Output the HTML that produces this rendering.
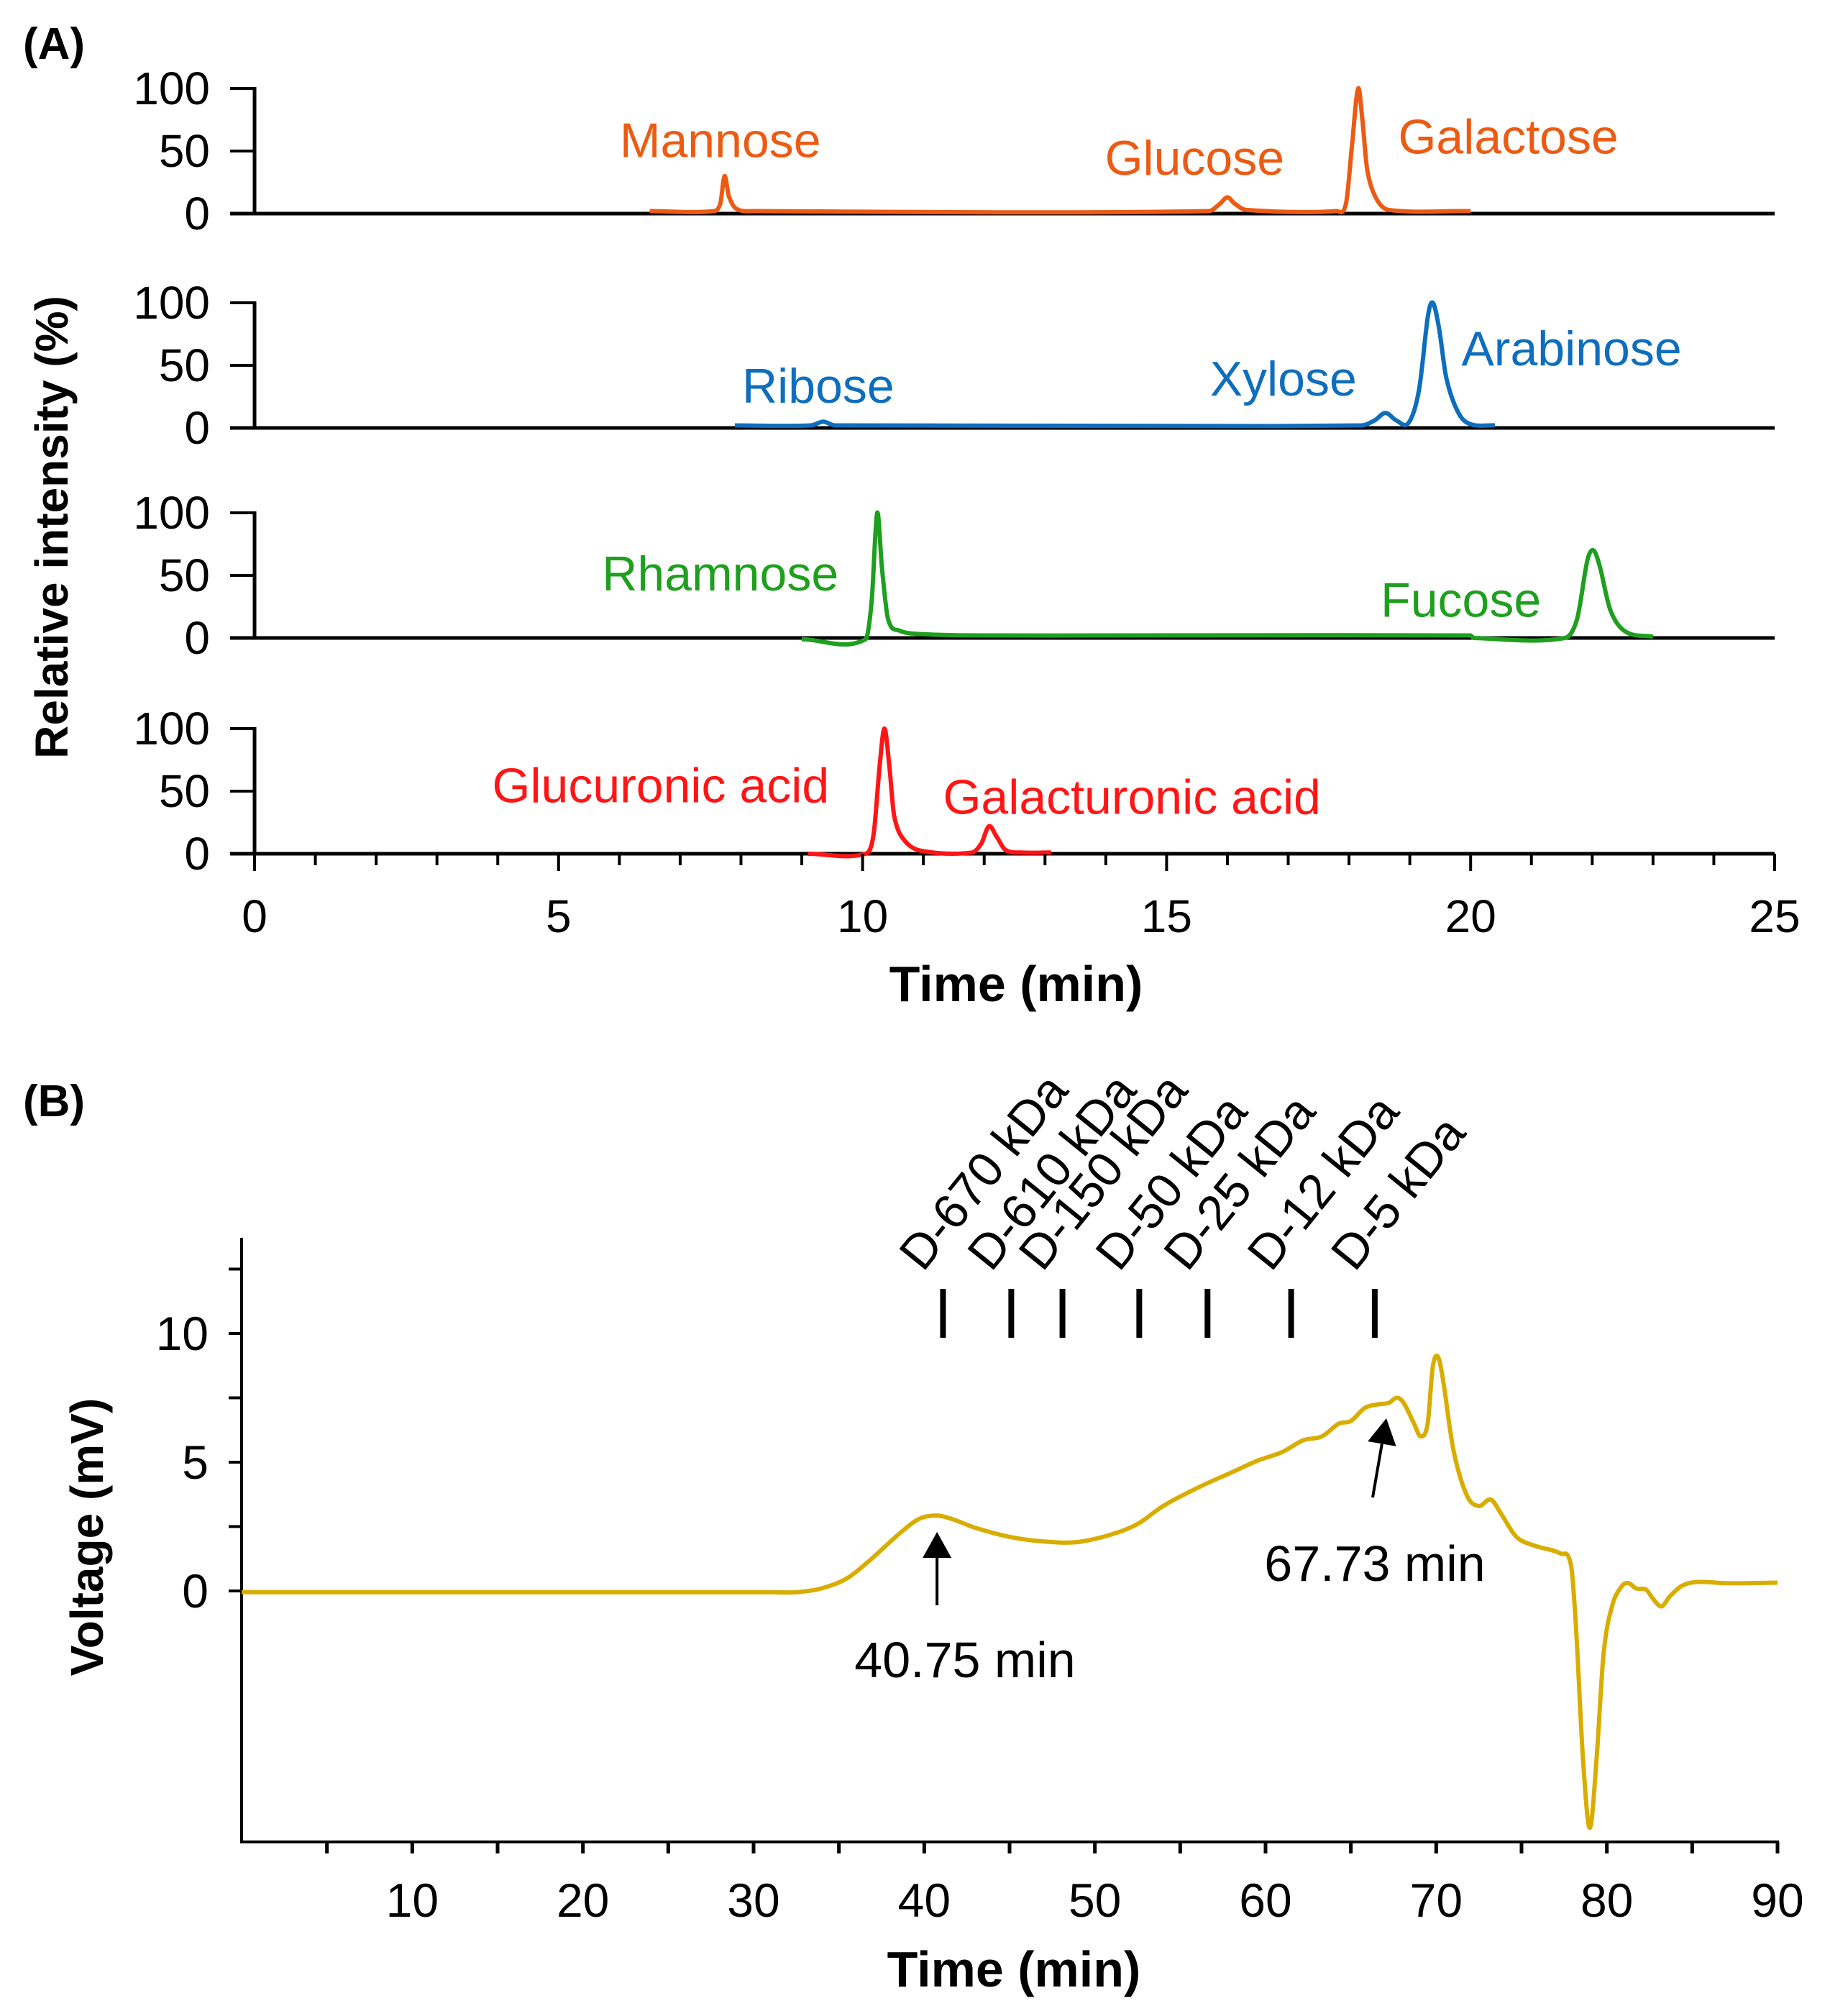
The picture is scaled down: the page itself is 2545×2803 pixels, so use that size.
<!DOCTYPE html>
<html><head><meta charset="utf-8">
<style>
html,body{margin:0;padding:0;background:#fff;}
svg{display:block;font-family:"Liberation Sans",Arial,sans-serif;}
</style></head>
<body>
<svg id="chart" width="2545" height="2803" viewBox="0 0 2545 2803" xmlns="http://www.w3.org/2000/svg">
<text x="32" y="82" font-size="62" font-weight="bold">(A)</text>
<text x="32" y="1552" font-size="62" font-weight="bold">(B)</text>
<g id="pa"></g>
<g id="pb"></g>
</svg>
<script>
// ---------- Panel A data (time min, relative intensity %) ----------
const aXTicks = [0, 5, 10, 15, 20, 25];
const aYTicks = [0, 50, 100];
const mannoseTrace = [[6.5,2],[7.55,2],[7.66,8],[7.73,30],[7.8,14],[7.92,4],[8.2,2],[15.7,2],[15.88,8],[16.0,13],[16.12,8],[16.3,3],[17.8,2],[17.95,8],[18.05,55],[18.15,100],[18.22,75],[18.3,35],[18.45,12],[18.65,3],[20,2]];
const riboseTrace = [[7.9,2],[9.15,2],[9.35,5],[9.55,2],[18.2,2],[18.42,6],[18.6,12],[18.78,6],[18.98,4],[19.15,30],[19.3,90],[19.38,100],[19.48,80],[19.6,40],[19.8,12],[20.0,3],[20.4,2]];
const rhamnoseTrace = [[9,-1],[10.05,-1],[10.15,30],[10.24,100],[10.32,55],[10.42,15],[10.6,6],[11,3],[12,2],[20,2],[20.05,0],[21.55,0],[21.75,15],[21.92,62],[22.02,70],[22.12,58],[22.3,22],[22.55,5],[23,1]];
const uronicTrace = [[9.1,0],[10.05,0],[10.18,15],[10.28,70],[10.36,100],[10.44,70],[10.52,30],[10.7,10],[11,2],[11.8,1],[11.95,8],[12.08,22],[12.2,14],[12.35,3],[12.6,1],[13.1,1]];
const aSeries = [mannoseTrace, riboseTrace, rhamnoseTrace, uronicTrace];
const aColors = ["#EC5B13","#0E6EBE","#1EA01E","#FF1515"];
const aNames = ["neutral-hexose-trace","pentose-trace","deoxy-sugar-trace","uronic-acid-trace"];
const aLabels = [
  [["Mannose",7.66,45],["Glucose",15.46,31],["Galactose",20.62,48]],
  [["Ribose",9.27,20],["Xylose",16.92,26],["Arabinose",21.66,50]],
  [["Rhamnose",7.66,38],["Fucose",19.84,17]],
  [["Glucuronic acid",6.68,41],["Galacturonic acid",14.43,32]]
];
// ---------- Panel B data (time min, voltage mV) ----------
const bXTicks = [10,20,30,40,50,60,70,80,90];
const bYTicks = [0,5,10];
const bTrace = [[0,-0.05],[31,-0.05],[32.5,-0.05],[34,0.1],[35.5,0.5],[37,1.3],[38.5,2.2],[39.7,2.8],[40.7,2.93],[41.6,2.8],[43,2.45],[45,2.1],[47,1.92],[49,1.9],[51,2.2],[52.5,2.6],[54,3.3],[56,4.0],[58,4.6],[59.5,5.05],[61,5.4],[62.2,5.85],[63.3,6.0],[64.3,6.5],[65,6.6],[65.8,7.1],[66.6,7.25],[67.2,7.3],[67.7,7.5],[68.1,7.3],[68.7,6.5],[69.1,6.0],[69.5,6.5],[69.8,8.7],[70.1,9.1],[70.4,8.2],[71,5.5],[71.8,3.7],[72.5,3.3],[73.2,3.55],[73.8,3.0],[74.7,2.1],[75.8,1.75],[77.3,1.45],[77.9,1.0],[78.2,-1.5],[78.6,-6.5],[79.0,-9.2],[79.4,-6.5],[79.8,-2.5],[80.3,-0.6],[80.9,0.2],[81.3,0.3],[81.7,0.1],[82.3,0.05],[82.7,-0.3],[83.2,-0.6],[83.7,-0.2],[84.4,0.2],[85.3,0.35],[87,0.3],[90,0.32]];
const bStdTimes = [41.1,45.1,48.1,52.6,56.6,61.5,66.4];
const bStdNames = ["D-670 kDa","D-610 kDa","D-150 kDa","D-50 kDa","D-25 kDa","D-12 kDa","D-5 kDa"];
const bPeakTimes = [40.75, 67.73];
const bPeakLabels = ["40.75 min","67.73 min"];

const NS = "http://www.w3.org/2000/svg";
function mk(parent, tag, attrs){ const e=document.createElementNS(NS,tag); for(const k in attrs) e.setAttribute(k,attrs[k]); parent.appendChild(e); return e; }
function smooth(pts){
  let d = "M"+pts[0][0].toFixed(1)+","+pts[0][1].toFixed(1);
  for(let i=0;i<pts.length-1;i++){
    const p0=pts[Math.max(i-1,0)],p1=pts[i],p2=pts[i+1],p3=pts[Math.min(i+2,pts.length-1)];
    const seg=p2[0]-p1[0];
    // tangent slopes scaled by segment length (monotone in x)
    const m1=(p2[1]-p0[1])/Math.max(p2[0]-p0[0],1e-6);
    const m2=(p3[1]-p1[1])/Math.max(p3[0]-p1[0],1e-6);
    const c1=[p1[0]+seg/3,p1[1]+m1*seg/3];
    const c2=[p2[0]-seg/3,p2[1]-m2*seg/3];
    d+=" C"+c1[0].toFixed(1)+","+c1[1].toFixed(1)+" "+c2[0].toFixed(1)+","+c2[1].toFixed(1)+" "+p2[0].toFixed(1)+","+p2[1].toFixed(1);
  }
  return d;
}
// ----- Panel A -----
const pa=document.getElementById("pa");
const ax0=354, ax1=2468;
const aX = t => ax0 + (t-0)/(25-0)*(ax1-ax0);
const aBase = [297,595,887,1187], aH = 174;
for(let s=0;s<4;s++){
  const yb=aBase[s];
  const aY = v => yb - v/100*aH;
  const g=mk(pa,"g",{});
  
  
  const ya=mk(g,"line",{x1:ax0,y1:aY(100)-2,x2:ax0,y2:yb,stroke:"#000","stroke-width":5});
  
  
  const xa=mk(g,"line",{x1:ax0-34,y1:yb,x2:ax1,y2:yb,stroke:"#000","stroke-width":5});
  
  
  aYTicks.forEach(v=>{
    const tk=mk(g,"line",{x1:ax0-34,y1:aY(v),x2:ax0,y2:aY(v),stroke:"#000","stroke-width":4});
    
    
    const tl=mk(g,"text",{x:ax0-62,y:aY(v)+22,"font-size":64,"text-anchor":"end"});
    tl.textContent=v;
    
    
  });
  const path=mk(g,"path",{d:smooth(aSeries[s].map(p=>[aX(p[0]),aY(p[1])])),fill:"none",stroke:aColors[s],"stroke-width":6,"stroke-linejoin":"round"});
  
  
  aLabels[s].forEach(l=>{
    const t=mk(g,"text",{x:aX(l[1]),y:aY(l[2]),"font-size":68,fill:aColors[s],"text-anchor":"middle"});
    t.textContent=l[0];
    
    
  });
}
for(let t=0;t<=25;t++){
  const major = t%5===0;
  const tk=mk(pa,"line",{x1:aX(t),y1:1187,x2:aX(t),y2:1187+(major?24:16),stroke:"#000","stroke-width":4});
  
  
}
aXTicks.forEach(t=>{
  const tl=mk(pa,"text",{x:aX(t),y:1296,"font-size":64,"text-anchor":"middle"});
  tl.textContent=t;
  
  
});
const axt=mk(pa,"text",{x:1413,y:1392,"font-size":70,"font-weight":"bold","text-anchor":"middle"});
axt.textContent="Time (min)";


const ayt=mk(pa,"text",{x:0,y:0,"font-size":64,"font-weight":"bold","text-anchor":"middle",transform:"translate(94,733) rotate(-90)"});
ayt.textContent="Relative intensity (%)";



// ----- Panel B -----
const pb=document.getElementById("pb");
const bx0=336, bx1=2472, by0=2212, bpm=35.8, byBot=2561, byTop=1721;
const bX = t => bx0 + t/90*(bx1-bx0);
const bY = v => by0 - v*bpm;
const bya=mk(pb,"line",{x1:bx0,y1:byTop,x2:bx0,y2:byBot,stroke:"#000","stroke-width":4});


const bxa=mk(pb,"line",{x1:bx0-2,y1:byBot,x2:bx1+2,y2:byBot,stroke:"#000","stroke-width":4});


for(let v=0; v<=12.5; v+=2.5){
  const tk=mk(pb,"line",{x1:bx0-18,y1:bY(v),x2:bx0,y2:bY(v),stroke:"#000","stroke-width":4});
  
  
}
bYTicks.forEach(v=>{
  const tl=mk(pb,"text",{x:bx0-46,y:bY(v)+23,"font-size":66,"text-anchor":"end"});
  tl.textContent=v;
  
  
});
for(let t=5;t<=90;t+=5){
  const tk=mk(pb,"line",{x1:bX(t),y1:byBot,x2:bX(t),y2:byBot+16,stroke:"#000","stroke-width":5});
  
  
}
bXTicks.forEach(t=>{
  const tl=mk(pb,"text",{x:bX(t),y:2665,"font-size":66,"text-anchor":"middle"});
  tl.textContent=t;
  
  
});
const bp=mk(pb,"path",{d:smooth(bTrace.map(p=>[bX(p[0]),bY(p[1])])),fill:"none",stroke:"#D9AD00","stroke-width":6,"stroke-linejoin":"round"});


bStdTimes.forEach((t,i)=>{
  const x=bX(t);
  const m=mk(pb,"line",{x1:x,y1:1792,x2:x,y2:1860,stroke:"#000","stroke-width":8});
  
  
  const tl=mk(pb,"text",{x:0,y:0,"font-size":68,transform:"translate("+(x-28)+",1770) rotate(-51)"});
  tl.textContent=bStdNames[i];
  
  
});
// arrows
const arrows=[[bX(bPeakTimes[0]),2232,bX(bPeakTimes[0]),2130,1342,2332],[1909,2082,1928,1972,1912,2198]];
arrows.forEach((a,i)=>{
  const [x1,y1,x2,y2,lx,ly]=a;
  const dx=x2-x1, dy=y2-y1, L=Math.hypot(dx,dy), ux=dx/L, uy=dy/L;
  const hb=[x2-ux*36, y2-uy*36];
  const ln=mk(pb,"line",{x1:x1,y1:y1,x2:hb[0],y2:hb[1],stroke:"#000","stroke-width":4});
  
  
  const hd=mk(pb,"polygon",{points:x2+","+y2+" "+(hb[0]-uy*20)+","+(hb[1]+ux*20)+" "+(hb[0]+uy*20)+","+(hb[1]-ux*20),fill:"#000"});
  
  
  const tl=mk(pb,"text",{x:lx,y:ly,"font-size":70,"text-anchor":"middle"});
  tl.textContent=bPeakLabels[i];
  
  
});
const bxt=mk(pb,"text",{x:1410,y:2762,"font-size":70,"font-weight":"bold","text-anchor":"middle"});
bxt.textContent="Time (min)";


const byt=mk(pb,"text",{x:0,y:0,"font-size":64,"font-weight":"bold","text-anchor":"middle",transform:"translate(143,2137) rotate(-90)"});
byt.textContent="Voltage (mV)";


</script>
</body></html>
